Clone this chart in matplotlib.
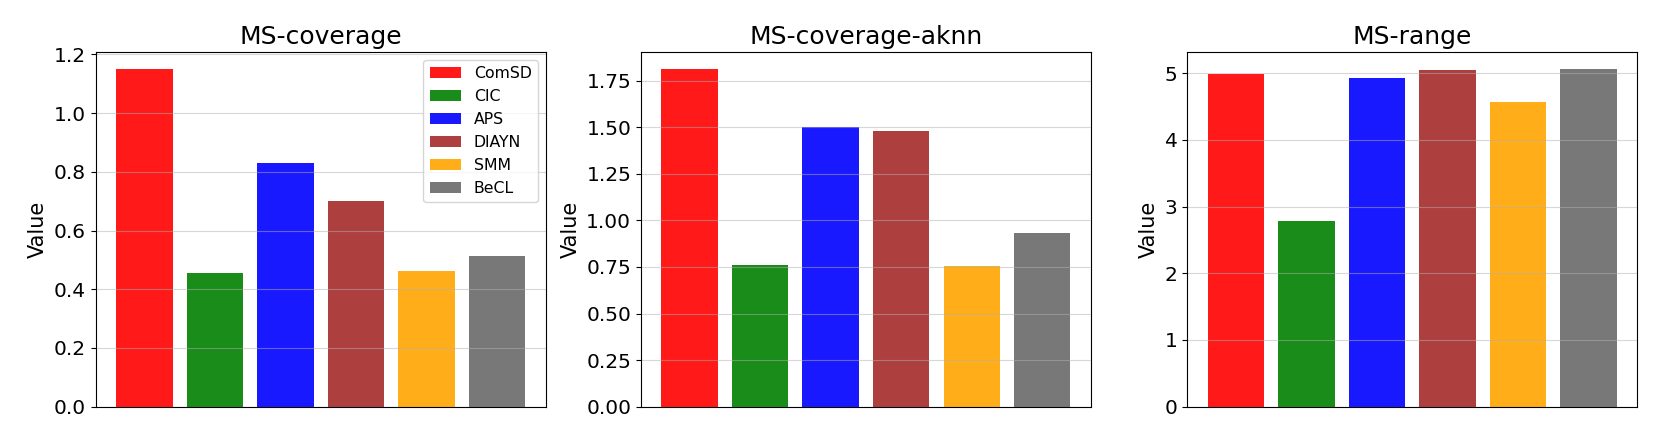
import matplotlib.pyplot as plt

# -----------------------------
# DATA
# -----------------------------
methods = ["ComSD", "CIC", "APS", "DIAYN", "SMM", "BeCL"]
colors = ["red", "green", "blue", "brown", "orange", "dimgray"]

ms_coverage = [1.150, 0.456, 0.830, 0.701, 0.461, 0.514]
ms_coverage_aknn = [1.812, 0.758, 1.500, 1.482, 0.754, 0.930]
ms_range = [4.98, 2.785, 4.93, 5.045, 4.575, 5.06]

titles = ["MS-coverage", "MS-coverage-aknn", "MS-range"]


# -----------------------------
# PLOT FUNCTION
# -----------------------------
def plot(all_values):
    """Three bar panels side by side"""
    fig = plt.figure(figsize=(16.61, 4.43), dpi=100)

    lefts = [0.0576, 0.3859, 0.7148]
    for i, (values, title) in enumerate(zip(all_values, titles)):
        ax = fig.add_axes([lefts[i], 0.082, 0.2709, 0.800])
        bars = ax.bar(range(len(methods)), values, color=colors, alpha=0.9,
                      label=methods)
        ax.set_title(title, fontsize=18)
        ax.set_ylabel("Value", fontsize=15)
        ax.set_xticks([])
        ax.tick_params(axis='y', labelsize=14.5)
        ax.grid(axis='y', alpha=0.5)

        # legend only on first panel
        if i == 0:
            ax.legend(bars, methods, loc="upper right", fontsize=11.3)

    fig.savefig("out.png", dpi=100)


# -----------------------------
# MAIN CALL
# -----------------------------
if __name__ == "__main__":
    plot([ms_coverage, ms_coverage_aknn, ms_range])
